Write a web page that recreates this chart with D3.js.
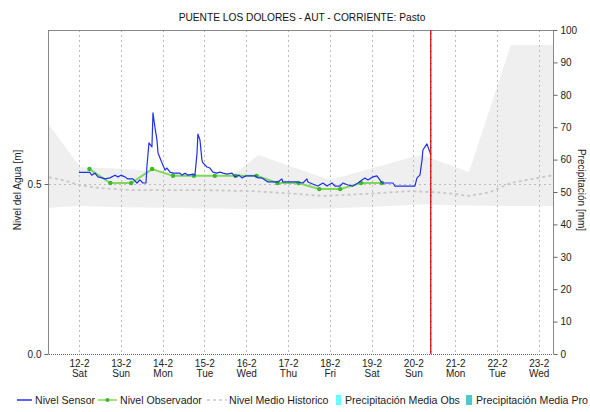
<!DOCTYPE html>
<html>
<head>
<meta charset="utf-8">
<script src="https://cdn.jsdelivr.net/npm/d3@7"></script>
<style>
  html, body { margin: 0; padding: 0; background: #fff; }
  svg { display: block; font-family: "Liberation Sans", Arial, sans-serif; }
</style>
</head>
<body>
<svg id="chart" width="590" height="412"></svg>
<script>
// Hours are counted from 12-2 00:00.
const dayHours = [0, 24, 48, 72, 96, 120, 144, 168, 192, 216, 240, 264];
const dayLabels = ["12-2", "13-2", "14-2", "15-2", "16-2", "17-2", "18-2", "19-2", "20-2", "21-2", "22-2", "23-2"];
const weekdayLabels = ["Sat", "Sun", "Mon", "Tue", "Wed", "Thu", "Fri", "Sat", "Sun", "Mon", "Tue", "Wed"];
const levelTicks = [0.0, 0.5];
const rainTicks = [0, 10, 20, 30, 40, 50, 60, 70, 80, 90, 100];

// Nivel Sensor [m]
const sensorHours = [0, 6.3, 7.3, 9.2, 10.9, 13.2, 14.9, 17.8, 20.7, 22.4, 24.1, 26.4, 28.1, 31.0, 33.3, 35.0, 36.7, 38.5,
  39.0, 40.2, 41.9, 42.5, 43.6, 44.8, 45.4, 47.7, 49.4, 50.5, 52.3, 54.0, 58.0, 59.1, 60.9, 62.6, 65.5, 66.6,
  67.8, 68.3, 69.5, 70.6, 71.2, 73.5, 75.2, 76.9, 79.2, 81.0, 82.7, 85.0, 87.9, 89.6, 91.9, 93.6, 95.9, 98.2,
  101.1, 102.8, 105.1, 106.8, 108.5, 110.8, 114.3, 116.5, 117.1, 125.2, 128.6, 130.9, 131.5, 135.5, 137.2,
  140.1, 142.4, 145.3, 147.0, 149.9, 151.6, 154.5, 157.3, 160.2, 162.5, 164.2, 165.9, 168.8, 171.1, 172.8,
  174.0, 180.3, 181.4, 192.9, 194.1, 195.8, 197.0, 197.5, 199.8, 201.5, 202.0];
const sensorLevel = [0.534, 0.534, 0.526, 0.532, 0.521, 0.518, 0.515, 0.518, 0.526, 0.521, 0.526, 0.521, 0.515, 0.515, 0.503, 0.512, 0.503, 0.503,
  0.550, 0.621, 0.609, 0.709, 0.668, 0.629, 0.591, 0.562, 0.541, 0.547, 0.535, 0.532, 0.532, 0.526, 0.532, 0.526, 0.529, 0.526,
  0.591, 0.647, 0.629, 0.571, 0.562, 0.550, 0.547, 0.535, 0.532, 0.535, 0.532, 0.529, 0.532, 0.521, 0.526, 0.518, 0.524, 0.524,
  0.524, 0.518, 0.518, 0.512, 0.506, 0.506, 0.506, 0.515, 0.506, 0.506, 0.503, 0.515, 0.506, 0.497, 0.494,
  0.503, 0.494, 0.503, 0.494, 0.494, 0.503, 0.497, 0.494, 0.503, 0.512, 0.518, 0.512, 0.521, 0.524, 0.512,
  0.503, 0.503, 0.494, 0.494, 0.518, 0.526, 0.571, 0.600, 0.618, 0.594, 0.585];

// Nivel Observador [m]
const obsHours = [6, 18, 30, 42, 54, 66, 78, 90, 102, 114, 126, 138, 150, 162, 174];
const obsLevel = [0.544, 0.503, 0.503, 0.544, 0.524, 0.524, 0.524, 0.524, 0.524, 0.503, 0.503, 0.485, 0.485, 0.503, 0.503];

// Nivel Medio Historico [m]
const meanHours = [-17.2, -8, 0, 12, 30, 72, 100, 125, 140, 165, 190, 205, 215, 224, 236, 248, 272.2];
const meanLevel = [0.520, 0.510, 0.497, 0.488, 0.482, 0.482, 0.479, 0.471, 0.465, 0.471, 0.479, 0.476, 0.471, 0.465, 0.476, 0.503, 0.526];

// Historical range band [m]
const bandHours = [-17.2, 0.6, 24, 48, 72, 88, 103, 144, 191, 197, 224, 248, 272.2];
const bandHigh = [0.674, 0.550, 0.545, 0.535, 0.527, 0.524, 0.585, 0.512, 0.579, 0.585, 0.535, 0.909, 0.909];
const bandLow = [0.430, 0.435, 0.432, 0.430, 0.428, 0.427, 0.425, 0.428, 0.438, 0.440, 0.437, 0.435, 0.435];

// Current time marker
const nowHour = 202;

(function draw() {
  const svg = d3.select("#chart");
  const pL = 49, pR = 553, pT = 30, pB = 354;
  const font = "Liberation Sans, Arial, sans-serif";

  const x = d3.scaleLinear().domain([-17.2, 272.2]).range([pL, pR]);
  const yL = d3.scaleLinear().domain([0, 0.953]).range([pB, pT]);
  const yR = d3.scaleLinear().domain([0, 100]).range([pB, pT]);

  // Title
  svg.append("text")
    .attr("x", 302).attr("y", 21)
    .attr("text-anchor", "middle")
    .attr("font-size", 10.2)
    .attr("fill", "#111")
    .text("PUENTE LOS DOLORES - AUT - CORRIENTE: Pasto");

  // Historical band
  const band = bandHours.map((h, i) => ({ h, hi: bandHigh[i], lo: bandLow[i] }));
  svg.append("path")
    .datum(band)
    .attr("fill", "#efefef")
    .attr("d", d3.area().x(d => x(d.h)).y0(d => yL(d.lo)).y1(d => yL(d.hi)));

  // Grid
  const grid = svg.append("g").attr("stroke", "#bdbdbd").attr("stroke-dasharray", "2,3").attr("stroke-width", 1);
  grid.selectAll("line.v").data(dayHours).join("line")
    .attr("x1", d => Math.round(x(d)) + 0.5).attr("x2", d => Math.round(x(d)) + 0.5)
    .attr("y1", pT).attr("y2", pB);
  grid.append("line")
    .attr("x1", pL).attr("x2", pR)
    .attr("y1", Math.round(yL(0.5)) + 0.5).attr("y2", Math.round(yL(0.5)) + 0.5);

  // Historical mean
  svg.append("path")
    .datum(meanHours.map((h, i) => [h, meanLevel[i]]))
    .attr("fill", "none")
    .attr("stroke", "#c8c8c8")
    .attr("stroke-width", 1.8)
    .attr("stroke-dasharray", "3,3")
    .attr("d", d3.line().x(d => x(d[0])).y(d => yL(d[1])));

  // Observer level
  const obs = obsHours.map((h, i) => [h, obsLevel[i]]);
  svg.append("path")
    .datum(obs)
    .attr("fill", "none")
    .attr("stroke", "#7ed957")
    .attr("stroke-width", 2)
    .attr("d", d3.line().x(d => x(d[0])).y(d => yL(d[1])));
  svg.selectAll("circle.obs").data(obs).join("circle")
    .attr("cx", d => x(d[0])).attr("cy", d => yL(d[1]))
    .attr("r", 2.2).attr("fill", "#3cb82a");

  // Sensor level
  svg.append("path")
    .datum(sensorHours.map((h, i) => [h, sensorLevel[i]]))
    .attr("fill", "none")
    .attr("stroke", "#2030f0")
    .attr("stroke-width", 1.2)
    .attr("stroke-linejoin", "round")
    .attr("d", d3.line().x(d => x(d[0])).y(d => yL(d[1])));

  // Frame
  const frame = svg.append("g").attr("stroke", "#888").attr("stroke-width", 1).attr("fill", "none");
  frame.append("line").attr("x1", pL - 0.5).attr("x2", pR + 0.5).attr("y1", pT + 0.5).attr("y2", pT + 0.5);
  frame.append("line").attr("x1", pL - 0.5).attr("x2", pL - 0.5).attr("y1", pT).attr("y2", pB);
  frame.append("line").attr("x1", pR + 0.5).attr("x2", pR + 0.5).attr("y1", pT).attr("y2", pB);
  svg.append("line").attr("x1", pL).attr("x2", pR)
    .attr("y1", pB + 0.5).attr("y2", pB + 0.5)
    .attr("stroke", "#666").attr("stroke-width", 1).attr("stroke-dasharray", "1,1");

  // Now marker
  svg.append("line")
    .attr("x1", x(nowHour)).attr("x2", x(nowHour))
    .attr("y1", pT).attr("y2", pB)
    .attr("stroke", "#e8262a").attr("stroke-width", 1.5);
  svg.append("line")
    .attr("x1", x(nowHour)).attr("x2", x(nowHour))
    .attr("y1", pT + 3).attr("y2", pB)
    .attr("stroke", "#8a1010").attr("stroke-width", 1).attr("stroke-dasharray", "1,5");

  // Left axis
  const gL = svg.append("g").attr("transform", `translate(${pL - 0.5},0)`)
    .call(d3.axisLeft(yL).tickValues(levelTicks).tickFormat(d3.format(".1f")).tickSize(4).tickSizeOuter(0));
  gL.select(".domain").remove();
  gL.selectAll("line").attr("stroke", "#666");
  gL.selectAll("text").attr("font-size", 10).attr("fill", "#222").attr("font-family", font);

  // Right axis
  const gR = svg.append("g").attr("transform", `translate(${pR + 0.5},0)`)
    .call(d3.axisRight(yR).tickValues(rainTicks).tickSize(4).tickSizeOuter(0));
  gR.select(".domain").remove();
  gR.selectAll("line").attr("stroke", "#666");
  gR.selectAll("text").attr("font-size", 10).attr("fill", "#222").attr("font-family", font);

  // Bottom axis: date and weekday
  const gB = svg.append("g").attr("transform", `translate(0,${pB})`)
    .call(d3.axisBottom(x).tickValues(dayHours).tickSize(0).tickFormat((d, i) => dayLabels[i]));
  gB.select(".domain").remove();
  gB.selectAll("text").attr("font-size", 10).attr("fill", "#222").attr("dy", "1.0em")
    .attr("font-family", font);
  gB.selectAll(".tick").append("text")
    .attr("y", 0).attr("dy", "2.25em")
    .attr("text-anchor", "middle")
    .attr("font-size", 10).attr("fill", "#222")
    .attr("font-family", font)
    .text((d, i) => weekdayLabels[i]);

  // Axis titles
  svg.append("text")
    .attr("transform", "translate(21,190) rotate(-90)")
    .attr("text-anchor", "middle").attr("font-size", 10).attr("fill", "#222")
    .text("Nivel del Agua [m]");
  svg.append("text")
    .attr("transform", "translate(578,190) rotate(90)")
    .attr("text-anchor", "middle").attr("font-size", 10).attr("fill", "#222")
    .text("Precipitación [mm]");

  // Legend
  const lg = svg.append("g").attr("font-size", 10.6).attr("fill", "#222");
  const ly = 400;
  lg.append("line").attr("x1", 17).attr("x2", 32).attr("y1", ly).attr("y2", ly).attr("stroke", "#2030f0").attr("stroke-width", 1.5);
  lg.append("text").attr("x", 35).attr("y", ly + 4).text("Nivel Sensor");
  lg.append("line").attr("x1", 98).attr("x2", 117).attr("y1", ly).attr("y2", ly).attr("stroke", "#7ed957").attr("stroke-width", 1.5);
  lg.append("circle").attr("cx", 107.5).attr("cy", ly).attr("r", 2).attr("fill", "#3cb82a");
  lg.append("text").attr("x", 120).attr("y", ly + 4).text("Nivel Observador");
  lg.append("line").attr("x1", 207).attr("x2", 227).attr("y1", ly).attr("y2", ly).attr("stroke", "#c8c8c8").attr("stroke-width", 1.5).attr("stroke-dasharray", "3,3");
  lg.append("text").attr("x", 229).attr("y", ly + 4).text("Nivel Medio Historico");
  lg.append("rect").attr("x", 336).attr("y", ly - 5).attr("width", 5).attr("height", 10).attr("fill", "#66ffff");
  lg.append("text").attr("x", 345).attr("y", ly + 4).text("Precipitación Media Obs");
  lg.append("rect").attr("x", 466).attr("y", ly - 5).attr("width", 6).attr("height", 10).attr("fill", "#4cc9c9");
  lg.append("text").attr("x", 476).attr("y", ly + 4).text("Precipitación Media Pro");
})();
</script>
</body>
</html>
